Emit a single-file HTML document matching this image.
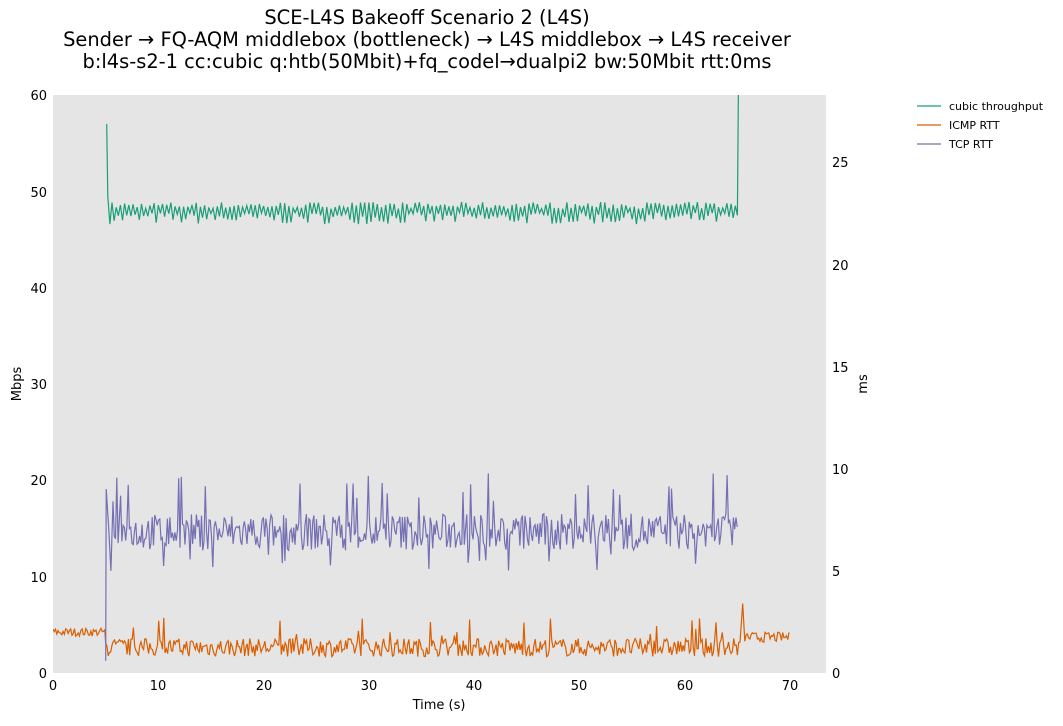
<!DOCTYPE html>
<html><head><meta charset="utf-8"><style>
body{margin:0;background:#fff;width:1063px;height:721px;overflow:hidden;font-family:"Liberation Sans","DejaVu Sans",sans-serif}
svg text{font-family:"DejaVu Sans","Liberation Sans",sans-serif}
</style></head><body>
<svg id="s" width="1063" height="721" xmlns="http://www.w3.org/2000/svg">
<defs><clipPath id="c"><rect x="53" y="95" width="773" height="578"/></clipPath></defs>
<text x="427" y="24" font-size="19.4" text-anchor="middle">SCE-L4S Bakeoff Scenario 2 (L4S)</text>
<text x="427" y="46" font-size="19.4" text-anchor="middle">Sender → FQ-AQM middlebox (bottleneck) → L4S middlebox → L4S receiver</text>
<text x="427" y="68" font-size="19.4" text-anchor="middle">b:l4s-s2-1 cc:cubic q:htb(50Mbit)+fq_codel→dualpi2 bw:50Mbit rtt:0ms</text>
<rect x="53" y="95" width="773" height="578" fill="#e5e5e5"/>
<g id="g" clip-path="url(#c)"></g>
<g font-size="13" fill="#000">
<text x="47" y="678" text-anchor="end">0</text>
<text x="47" y="582" text-anchor="end">10</text>
<text x="47" y="485" text-anchor="end">20</text>
<text x="47" y="389" text-anchor="end">30</text>
<text x="47" y="293" text-anchor="end">40</text>
<text x="47" y="197" text-anchor="end">50</text>
<text x="47" y="100" text-anchor="end">60</text>
<text x="832" y="678">0</text>
<text x="832" y="576">5</text>
<text x="832" y="474">10</text>
<text x="832" y="372">15</text>
<text x="832" y="270">20</text>
<text x="832" y="167">25</text>
<text x="53" y="690" text-anchor="middle">0</text>
<text x="158" y="690" text-anchor="middle">10</text>
<text x="264" y="690" text-anchor="middle">20</text>
<text x="369" y="690" text-anchor="middle">30</text>
<text x="474" y="690" text-anchor="middle">40</text>
<text x="579" y="690" text-anchor="middle">50</text>
<text x="685" y="690" text-anchor="middle">60</text>
<text x="790" y="690" text-anchor="middle">70</text>
<text x="439" y="709" text-anchor="middle">Time (s)</text>
<text transform="translate(21,384) rotate(-90)" text-anchor="middle">Mbps</text>
<text transform="translate(867,384) rotate(-90)" text-anchor="middle">ms</text>
</g>
<g font-size="11">
<line x1="917" y1="106" x2="941" y2="106" stroke="#1b9e77" stroke-width="1.3"/><text x="949" y="110">cubic throughput</text>
<line x1="917" y1="125" x2="941" y2="125" stroke="#d95f02" stroke-width="1.3"/><text x="949" y="129">ICMP RTT</text>
<line x1="917" y1="144" x2="941" y2="144" stroke="#7570b3" stroke-width="1.3"/><text x="949" y="148">TCP RTT</text>
</g>
</svg>
<script>
var seed=7;function r(){seed=(seed*16807)%2147483647;return seed/2147483647;}
function X(t){return 53+t*10.53;}
function L(v){return 673-v*9.633;}
function R(v){return 673-v*20.44;}
function path(pts,c){var d=pts.map(function(p,i){return (i?'L':'M')+p[0].toFixed(1)+' '+p[1].toFixed(1)}).join('');
document.getElementById('g').innerHTML+='<path d="'+d+'" fill="none" stroke="'+c+'" stroke-width="1.2"/>';}
var p=[[X(5.1),L(57)],[X(5.2),L(49.5)]];
for(var t=5.4;t<65;t+=0.2){var hi=(Math.round(t*5)%2==0);p.push([X(t),L(hi?48.2+r()*0.7:46.6+r()*1.2)]);}
p.push([X(65),L(47.5)]);p.push([X(65.1),L(62)]);
path(p,'#1b9e77');
p=[];for(t=0;t<5;t+=0.12)p.push([X(t),R(1.9+r()*0.4-0.1)]);
for(t=5;t<65.3;t+=0.12){var v=0.8+r()*0.9;if(r()<0.03)v=1.8+r()*0.9;p.push([X(t),R(v)]);}
p.push([X(65.5),R(3.4)]);
for(t=65.7;t<70;t+=0.12)p.push([X(t),R(1.5+r()*0.5)]);
path(p,'#d95f02');
p=[[X(5),R(0.6)],[X(5.05),R(9)],[X(5.3),R(7)],[X(5.5),R(5)]];
for(t=5.7;t<65;t+=0.12){var v=6.0+r()*1.8;var q=r();if(q<0.06)v=8.3+r()*1.6;else if(q<0.09)v=5+r()*0.8;p.push([X(t),R(v)]);}
path(p,'#7570b3');
</script>
</body></html>
